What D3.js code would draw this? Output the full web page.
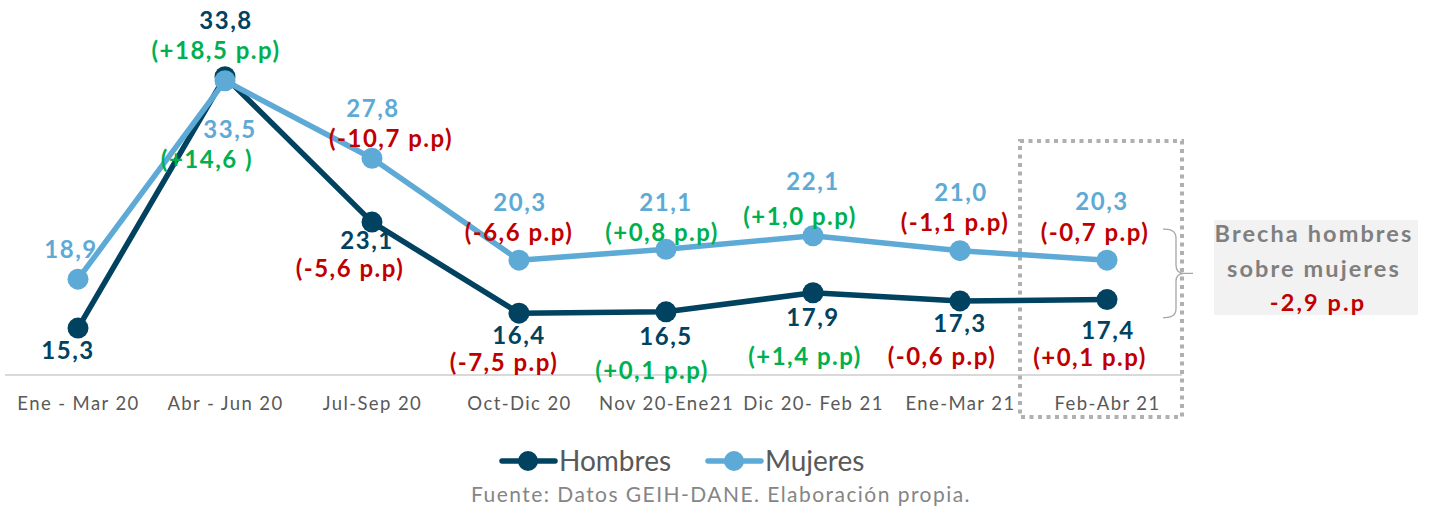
<!DOCTYPE html>
<html>
<head>
<meta charset="utf-8">
<script src="https://cdn.jsdelivr.net/npm/d3@7"></script>
<style>
  body { margin: 0; background: #fff; }
  text { font-family: Lato, "Open Sans", sans-serif; }
</style>
</head>
<body>
<svg width="1429" height="508"></svg>
<script>
// chart data
var periods = ["Ene - Mar 20", "Abr - Jun 20", "Jul-Sep 20", "Oct-Dic 20",
               "Nov 20-Ene21", "Dic 20- Feb 21", "Ene-Mar 21", "Feb-Abr 21"];
var hombres = [15.3, 33.8, 23.1, 16.4, 16.5, 17.9, 17.3, 17.4];
var mujeres = [18.9, 33.5, 27.8, 20.3, 21.1, 22.1, 21.0, 20.3];
var hombresCambio = [null, "(+18,5 p.p)", "(-5,6 p.p)", "(-7,5 p.p)", "(+0,1 p.p)", "(+1,4 p.p)", "(-0,6 p.p)", "(+0,1 p.p)"];
var mujeresCambio = [null, "(+14,6 )", "(-10,7 p.p)", "(-6,6 p.p)", "(+0,8 p.p)", "(+1,0 p.p)", "(-1,1 p.p)", "(-0,7 p.p)"];
var brecha = "-2,9 p.p";

// label placement: [dx, dy] from the point to the text baseline
var hLabelPos = [[-10, 31], [1, -48], [-5, 27], [0, 31], [0, 33], [0, 33], [0, 31], [1, 39]];
var hChangePos = [null, [-9, -18], [-22, 55], [-15, 58], [-14, 67], [-8, 72], [-18, 64], [-17, 66]];
var mLabelPos = [[-7, -21], [5, 57], [1, -41], [1, -49], [0, -38], [0, -46], [1, -50], [-5, -50]];
var mChangePos = [null, [-18, 87], [19, -11], [0, -19], [-4, -8], [-13, -11], [-5, -20], [-12, -19]];

var colH = "#00425f", colM = "#5eaad6", green = "#00b050", red = "#c00000";
// colour of each change label (g = green, r = red), as in the original
var hChangeCol = [null, "g", "r", "r", "g", "g", "r", "r"];
var mChangeCol = [null, "g", "r", "r", "g", "g", "r", "r"];

var svg = d3.select("svg");

var x = d3.scalePoint().domain(periods).range([78, 1107]);
var y = d3.scaleLinear().domain([11.85, 36]).range([375, 46.8]);

// axis baseline
svg.append("line")
    .attr("x1", 5).attr("x2", 1182)
    .attr("y1", y(11.85)).attr("y2", y(11.85))
    .attr("stroke", "#d9d9d9").attr("stroke-width", 2);

var xAxis = svg.append("g")
    .attr("transform", "translate(0," + y(11.85) + ")")
    .call(d3.axisBottom(x).tickSize(0).tickPadding(22));
xAxis.select(".domain").remove();
xAxis.selectAll("text")
    .attr("fill", "#595959")
    .style("font-size", "18.5px")
    .style("letter-spacing", "1.4px")
    .style("font-family", "Lato, 'Open Sans', sans-serif");

// highlight box around the last period
svg.append("rect")
    .attr("x", 1020).attr("y", 141)
    .attr("width", 162).attr("height", 276)
    .attr("fill", "none")
    .attr("stroke", "#b0b0b0")
    .attr("stroke-width", 4)
    .attr("stroke-dasharray", "4,4.5");

var line = d3.line()
    .x(function(d, i) { return x(periods[i]); })
    .y(function(d) { return y(d); });

function drawSeries(vals, color) {
    svg.append("path")
        .datum(vals)
        .attr("d", line)
        .attr("fill", "none")
        .attr("stroke", color)
        .attr("stroke-width", 5.5)
        .attr("stroke-linejoin", "round");
    svg.selectAll(null)
        .data(vals)
        .enter()
        .append("circle")
        .attr("cx", function(d, i) { return x(periods[i]); })
        .attr("cy", function(d) { return y(d); })
        .attr("r", 10.5)
        .attr("fill", color);
}
drawSeries(hombres, colH);
drawSeries(mujeres, colM);

function fmt(v) { return d3.format(".1f")(v).replace(".", ","); }

function boldText(px, py, color, txt) {
    return svg.append("text")
        .attr("x", px).attr("y", py)
        .attr("text-anchor", "middle")
        .attr("fill", color)
        .style("font-size", "24px").style("font-weight", "bold")
        .style("letter-spacing", "1.5px")
        .text(txt);
}

function drawLabels(vals, color, labelPos, changes, changePos, changeCol) {
    vals.forEach(function(v, i) {
        var px = x(periods[i]), py = y(v);
        boldText(px + labelPos[i][0], py + labelPos[i][1], color, fmt(v));
        if (changes[i]) {
            boldText(px + changePos[i][0], py + changePos[i][1],
                     changeCol[i] == "g" ? green : red, changes[i]);
        }
    });
}
drawLabels(hombres, colH, hLabelPos, hombresCambio, hChangePos, hChangeCol);
drawLabels(mujeres, colM, mLabelPos, mujeresCambio, mChangePos, mChangeCol);

// brace between the two last points
var bx = 1163, vx = 1176, yTop = y(mujeres[7]) - 31, yBot = y(hombres[7]) + 18, yMid = (yTop + yBot) / 2;
svg.append("path")
    .attr("d", "M" + bx + "," + yTop + " Q" + vx + "," + (yTop - 1) + " " + vx + "," + (yTop + 9) +
               " L" + vx + "," + (yMid - 8) + " Q" + vx + "," + yMid + " " + (vx + 8) + "," + yMid +
               " L" + (vx + 17) + "," + yMid +
               " M" + (vx + 8) + "," + yMid + " Q" + vx + "," + yMid + " " + vx + "," + (yMid + 8) +
               " L" + vx + "," + (yBot - 9) + " Q" + vx + "," + (yBot + 1) + " " + bx + "," + yBot)
    .attr("fill", "none")
    .attr("stroke", "#a6a6a6")
    .attr("stroke-width", 1.3);

// gap box
svg.append("rect")
    .attr("x", 1214).attr("y", 220)
    .attr("width", 204).attr("height", 95)
    .attr("fill", "#f2f2f2");
var boxLines = [["Brecha hombres", "#7f7f7f", 1314, 242], ["sobre mujeres", "#7f7f7f", 1314, 277], [brecha, red, 1318, 311]];
boxLines.forEach(function(b) {
    svg.append("text").attr("x", b[2]).attr("y", b[3]).attr("text-anchor", "middle")
        .attr("fill", b[1]).style("font-size", "23.5px").style("font-weight", "bold")
        .style("letter-spacing", "2.1px")
        .text(b[0]);
});

// legend
var legend = [{name: "Hombres", color: colH, x: 500}, {name: "Mujeres", color: colM, x: 706}];
legend.forEach(function(l) {
    var g = svg.append("g").attr("transform", "translate(" + l.x + ",461)");
    g.append("line").attr("x1", 2).attr("x2", 55).attr("y1", 0).attr("y2", 0)
        .attr("stroke", l.color).attr("stroke-width", 5.5).attr("stroke-linecap", "round");
    g.append("circle").attr("cx", 28).attr("cy", 0).attr("r", 10).attr("fill", l.color);
    g.append("text").attr("x", 59).attr("y", 10)
        .attr("fill", "#595959").style("font-size", "28px")
        .text(l.name);
});

svg.append("text")
    .attr("x", 721).attr("y", 502)
    .attr("text-anchor", "middle")
    .attr("fill", "#858585")
    .style("font-size", "21px")
    .style("letter-spacing", "1.45px")
    .text("Fuente: Datos GEIH-DANE. Elaboración propia.");
</script>
</body>
</html>
